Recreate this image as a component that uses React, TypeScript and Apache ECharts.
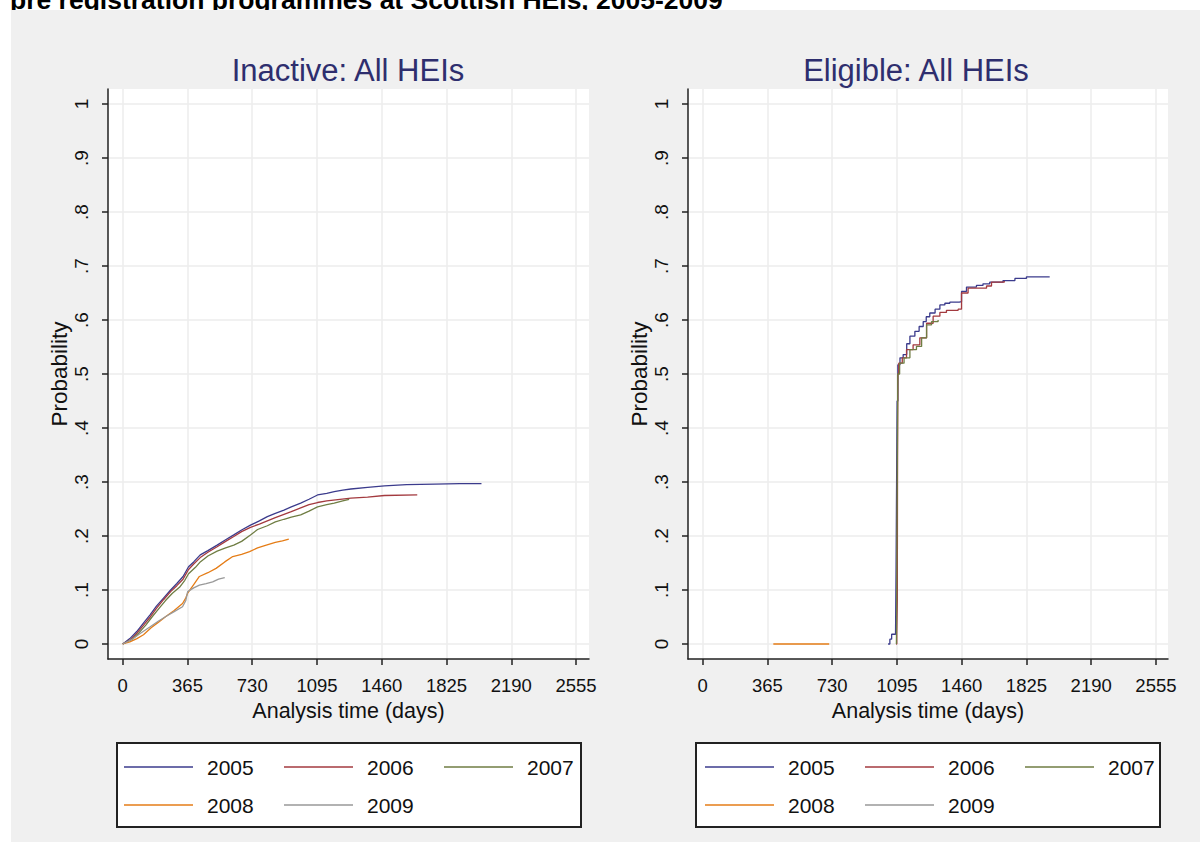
import React, { useEffect, useRef } from "react";
import * as echarts from "echarts";

const pageTitle = "pre registration programmes at Scottish HEIs, 2005-2009";
const panelTitles = ["Inactive: All HEIs", "Eligible: All HEIs"];
const years = ["2005", "2006", "2007", "2008", "2009"];
const colors = ["#3b3b8c", "#a33a3f", "#6f7d43", "#e57d17", "#999999"];
const xTicks = [0, 365, 730, 1095, 1460, 1825, 2190, 2555];
const yTicks = [0, 0.1, 0.2, 0.3, 0.4, 0.5, 0.6, 0.7, 0.8, 0.9, 1];
const xTitle = "Analysis time (days)";
const yTitle = "Probability";

// Inactive panel (days, cumulative probability)
const inactive2005 = [[0,0],[40,0.01],[79,0.023],[120,0.04],[154,0.054],[190,0.07],[230,0.085],[270,0.1],[305,0.112],[340,0.125],[371,0.143],[400,0.152],[437,0.165],[480,0.173],[532,0.183],[580,0.193],[626,0.202],[670,0.211],[720,0.22],[770,0.228],[815,0.236],[860,0.242],[909,0.248],[950,0.254],[1003,0.261],[1050,0.268],[1098,0.276],[1150,0.279],[1192,0.282],[1240,0.285],[1286,0.287],[1380,0.29],[1475,0.293],[1600,0.295],[1758,0.296],[1900,0.297],[2022,0.297]];
const inactive2006 = [[0,0],[45,0.008],[80,0.02],[120,0.036],[155,0.05],[190,0.066],[230,0.082],[270,0.097],[305,0.108],[340,0.12],[371,0.138],[400,0.148],[437,0.16],[480,0.17],[532,0.18],[580,0.19],[626,0.199],[670,0.208],[720,0.216],[770,0.222],[815,0.228],[860,0.234],[909,0.24],[950,0.245],[1003,0.252],[1050,0.258],[1098,0.262],[1150,0.265],[1200,0.267],[1286,0.27],[1380,0.272],[1475,0.275],[1660,0.276]];
const inactive2007 = [[0,0],[50,0.008],[90,0.02],[130,0.035],[165,0.05],[200,0.064],[240,0.08],[280,0.094],[320,0.105],[350,0.118],[371,0.13],[410,0.142],[437,0.152],[480,0.163],[532,0.172],[580,0.178],[626,0.183],[670,0.19],[720,0.202],[760,0.212],[815,0.219],[860,0.226],[909,0.231],[950,0.235],[1003,0.239],[1050,0.246],[1098,0.254],[1150,0.258],[1192,0.261],[1240,0.265],[1276,0.268]];
const inactive2008 = [[0,0],[40,0.004],[80,0.01],[117,0.017],[160,0.03],[200,0.04],[243,0.051],[290,0.062],[337,0.075],[355,0.085],[366,0.094],[400,0.11],[432,0.125],[480,0.132],[526,0.14],[575,0.152],[620,0.162],[670,0.166],[715,0.171],[760,0.178],[809,0.183],[860,0.188],[900,0.191],[936,0.194]];
const inactive2009 = [[0,0],[50,0.008],[100,0.02],[155,0.032],[200,0.042],[243,0.051],[290,0.06],[337,0.069],[355,0.08],[366,0.097],[400,0.104],[432,0.109],[470,0.112],[507,0.115],[540,0.12],[575,0.123]];

// Eligible panel
const eligible2005 = [[1045,0],[1055,0.009],[1065,0.018],[1087,0.02],[1090,0.14],[1093,0.3],[1096,0.45],[1100,0.517],[1112,0.53],[1130,0.536],[1150,0.556],[1168,0.57],[1196,0.579],[1220,0.588],[1243,0.597],[1260,0.606],[1280,0.613],[1310,0.62],[1337,0.628],[1365,0.631],[1393,0.633],[1446,0.634],[1459,0.653],[1487,0.661],[1543,0.664],[1580,0.667],[1618,0.67],[1693,0.673],[1760,0.677],[1825,0.68],[1956,0.68]];
const eligible2006 = [[1090,0],[1094,0.02],[1097,0.08],[1098,0.3],[1100,0.5],[1105,0.52],[1125,0.53],[1149,0.545],[1186,0.554],[1224,0.567],[1262,0.594],[1299,0.607],[1337,0.614],[1374,0.618],[1440,0.62],[1459,0.65],[1496,0.659],[1600,0.663],[1628,0.67],[1700,0.672]];
const eligible2007 = [[1092,0],[1093,0.06],[1095,0.2],[1098,0.4],[1100,0.5],[1110,0.52],[1135,0.53],[1168,0.545],[1205,0.551],[1234,0.567],[1262,0.591],[1290,0.597],[1327,0.6]];
const eligible2008 = [[398,0],[713,0]];
const eligible2009: number[][] = [];

const inactiveData = [inactive2005, inactive2006, inactive2007, inactive2008, inactive2009];
const eligibleData = [eligible2005, eligible2006, eligible2007, eligible2008, eligible2009];

const SANS = "'Liberation Sans', Arial, sans-serif";

export default function App() {
  const ref = useRef<HTMLDivElement>(null);
  useEffect(() => {
    if (!ref.current) return;
    const chart = echarts.init(ref.current, undefined, { renderer: "svg" });
    const grids = [
      { left: 108, top: 89, width: 481, height: 570 },
      { left: 688, top: 89, width: 480, height: 570 },
    ];
    const xMax = [2628, 2623];
    const mkX = (i: number) => ({
      type: "value",
      gridIndex: i,
      min: -83,
      max: xMax[i],
      name: xTitle,
      nameLocation: "middle",
      nameGap: 37,
      nameTextStyle: { fontFamily: SANS, fontSize: 21.5, color: "#111" },
      axisLine: { show: true, onZero: false, lineStyle: { color: "#222", width: 1.5 } },
      axisTick: { show: true, length: 6, customValues: xTicks, lineStyle: { color: "#222", width: 1.5 } },
      axisLabel: { customValues: xTicks, margin: 17, fontFamily: SANS, fontSize: 18.5, color: "#111", formatter: (v: number) => String(v) },
      splitLine: { show: true, lineStyle: { color: "#ececec", width: 1.5 } },
    });
    const mkY = (i: number) => ({
      type: "value",
      gridIndex: i,
      min: -0.0278,
      max: 1.0278,
      name: yTitle,
      nameLocation: "middle",
      nameGap: 30,
      nameTextStyle: { fontFamily: SANS, fontSize: 22.5, color: "#111" },
      axisLine: { show: true, onZero: false, lineStyle: { color: "#222", width: 1.5 } },
      axisTick: { show: true, length: 6, customValues: yTicks, lineStyle: { color: "#222", width: 1.5 } },
      axisLabel: {
        customValues: yTicks,
        rotate: 90,
        margin: 17,
        fontFamily: SANS,
        fontSize: 19,
        color: "#111",
        formatter: (v: number) => (v === 0 ? "0" : v === 1 ? "1" : "." + Math.round(v * 10)),
      },
      splitLine: { show: true, lineStyle: { color: "#ececec", width: 1.5 } },
    });
    const series: any[] = [];
    [inactiveData, eligibleData].forEach((set, gi) => {
      set.forEach((d, k) => {
        series.push({
          type: "line",
          name: years[k],
          xAxisIndex: gi,
          yAxisIndex: gi,
          data: d,
          step: gi === 1 ? "end" : false,
          symbol: "none",
          showSymbol: false,
          color: colors[k],
          lineStyle: { color: colors[k], width: 1.3 },
        });
      });
    });
    const legendBase = {
      orient: "horizontal",
      icon: "rect",
      itemWidth: 69,
      itemHeight: 1.6,
      itemGap: 10,
      selectedMode: false,
      padding: 0,
      z: 10,
      textStyle: { fontFamily: SANS, fontSize: 21, color: "#111", width: 67, lineHeight: 22, padding: [0, 0, 0, 9] },
    };
    const legends = [
      { ...legendBase, left: 124, top: 756, data: years.slice(0, 3) },
      { ...legendBase, left: 124, top: 794, data: years.slice(3) },
      { ...legendBase, left: 705, top: 756, data: years.slice(0, 3) },
      { ...legendBase, left: 705, top: 794, data: years.slice(3) },
    ];
    chart.setOption({
      animation: false,
      backgroundColor: "#ffffff",
      grid: grids.map((g) => ({ ...g, show: true, backgroundColor: "#ffffff", borderWidth: 0, containLabel: false })),
      xAxis: [mkX(0), mkX(1)],
      yAxis: [mkY(0), mkY(1)],
      legend: legends,
      title: [
        { text: panelTitles[0], left: 343, top: 50, textAlign: "center", textStyle: { fontFamily: SANS, fontSize: 31, fontWeight: "normal", color: "#2e2e6e" } },
        { text: panelTitles[1], left: 911, top: 50, textAlign: "center", textStyle: { fontFamily: SANS, fontSize: 31, fontWeight: "normal", color: "#2e2e6e" } },
      ],
      graphic: [
        { type: "text", z: -20, x: 10, y: 13, style: { text: pageTitle, font: "bold 26.5px " + SANS, fill: "#000", textVerticalAlign: "bottom" } },
        { type: "rect", z: -10, shape: { x: 11, y: 10, width: 1189, height: 832 }, style: { fill: "#f0f0f0" } },
        { type: "rect", z: 1, shape: { x: 117, y: 743, width: 464, height: 84 }, style: { fill: "#ffffff", stroke: "#222", lineWidth: 2 } },
        { type: "rect", z: 1, shape: { x: 696, y: 743, width: 464, height: 84 }, style: { fill: "#ffffff", stroke: "#222", lineWidth: 2 } },
      ],
      series,
    });
    return () => chart.dispose();
  }, []);
  return <div ref={ref} style={{ position: "fixed", left: 0, top: 0, width: 1200, height: 842 }} />;
}
